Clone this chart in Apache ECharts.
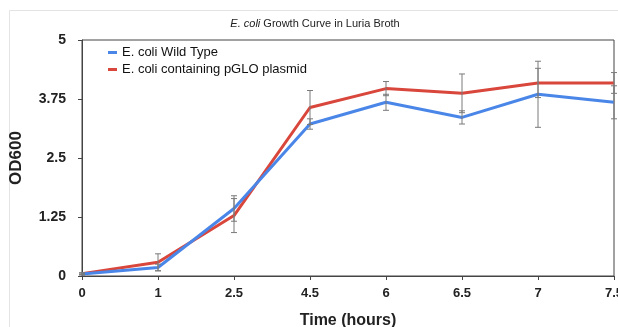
<!DOCTYPE html>
<html><head><meta charset="utf-8">
<script src="https://cdn.jsdelivr.net/npm/echarts@6/dist/echarts.min.js"></script>
<style>html,body{margin:0;padding:0;background:#fff}#c{width:618px;height:327px}</style>
</head><body><div id="c"></div>
<script>
const categories = ['0','1','2.5','4.5','6','6.5','7','7.5'];
const wildType = [0.04,0.18,1.43,3.22,3.68,3.36,3.85,3.68];
const wildTypeErr = [0.02,0.07,0.27,0.11,0.17,0.14,0.70,0.35];
const pglo = [0.05,0.29,1.28,3.57,3.97,3.87,4.09,4.09];
const pgloErr = [0.02,0.18,0.36,0.36,0.15,0.41,0.31,0.22];
const yTicks = [0,1.25,2.5,3.75,5];

function errData(vals, errs){ return vals.map((v,i)=>[i, v-errs[i], v+errs[i]]); }
function errRender(params, api){
  const lo = api.coord([api.value(0), api.value(1)]);
  const hi = api.coord([api.value(0), api.value(2)]);
  const w = 3;
  const st = {stroke:'#7a7a7a', lineWidth:1};
  return {type:'group', children:[
    {type:'line', shape:{x1:lo[0],y1:lo[1],x2:hi[0],y2:hi[1]}, style:st},
    {type:'line', shape:{x1:lo[0]-w,y1:lo[1],x2:lo[0]+w,y2:lo[1]}, style:st},
    {type:'line', shape:{x1:hi[0]-w,y1:hi[1],x2:hi[0]+w,y2:hi[1]}, style:st}
  ]};
}
const chart = echarts.init(document.getElementById('c'));
chart.setOption({
  animation:false,
  title:{text:'{i|E. coli} Growth Curve in Luria Broth', left:310, top:13, textAlign:'center',
    textStyle:{fontFamily:'Liberation Sans', fontSize:11, fontWeight:'normal', color:'#222',
      rich:{i:{fontFamily:'Liberation Sans', fontSize:11, fontStyle:'italic', color:'#222'}}}},
  graphic:[{type:'polyline', shape:{points:[[9.5,327],[9.5,10.5],[618,10.5]]}, style:{stroke:'#e4e4e4', lineWidth:1, fill:null}, silent:true}],
  legend:{left:103, top:41, orient:'vertical', itemWidth:9, itemHeight:3, itemGap:4,
    textStyle:{fontFamily:'Liberation Sans', fontSize:13, color:'#111'},
    data:[{name:'E. coli Wild Type', icon:'rect'},{name:'E. coli containing pGLO plasmid', icon:'rect'}]},
  grid:{left:82, right:4, top:40, bottom:51, outerBoundsMode:'none', show:true, borderColor:'#444', borderWidth:1},
  xAxis:{type:'category', data:categories, boundaryGap:false,
    name:'Time (hours)', nameLocation:'middle', nameGap:37,
    nameTextStyle:{fontFamily:'Liberation Sans', fontSize:16, fontWeight:'bold', color:'#222'},
    axisLine:{lineStyle:{color:'#444'}}, axisTick:{length:4, lineStyle:{color:'#444'}},
    axisLabel:{fontFamily:'Liberation Sans', fontSize:13, fontWeight:'bold', color:'#222', margin:11}},
  yAxis:{type:'value', min:0, max:5, interval:1.25,
    name:'OD600', nameLocation:'middle', nameGap:57,
    nameTextStyle:{fontFamily:'Liberation Sans', fontSize:17, fontWeight:'bold', color:'#222'},
    axisLine:{show:true, lineStyle:{color:'#444'}}, axisTick:{show:true, length:4, lineStyle:{color:'#444'}},
    splitLine:{show:false},
    axisLabel:{fontFamily:'Liberation Sans', fontSize:14, fontWeight:'bold', color:'#222', margin:16,
      formatter:v=>yTicks.includes(v)?String(v):''}},
  series:[
    {name:'E. coli Wild Type', type:'line', data:wildType, symbol:'none', color:'#4a86e8', lineStyle:{width:3, color:'#4a86e8'}, z:3},
    {name:'E. coli containing pGLO plasmid', type:'line', data:pglo, symbol:'none', color:'#d9463b', lineStyle:{width:3, color:'#d9463b'}, z:2},
    {type:'custom', renderItem:errRender, data:errData(wildType, wildTypeErr), z:5, clip:false},
    {type:'custom', renderItem:errRender, data:errData(pglo, pgloErr), z:5, clip:false}
  ]
});
</script></body></html>
